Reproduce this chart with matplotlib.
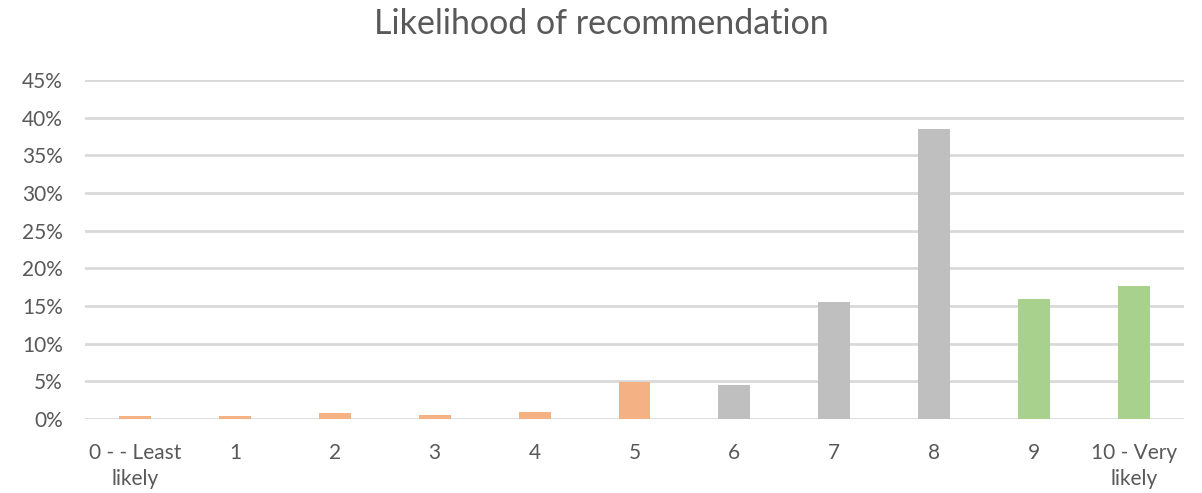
import matplotlib
matplotlib.use("Agg")
import matplotlib.pyplot as plt
from matplotlib.ticker import PercentFormatter

plt.rcParams['font.family'] = ['Lato', 'DejaVu Sans']

categories = ["0 - - Least\nlikely", "1", "2", "3", "4", "5", "6", "7", "8", "9", "10 - Very\nlikely"]
shares = [0.4, 0.4, 0.8, 0.5, 0.9, 4.9, 4.5, 15.5, 38.5, 15.9, 17.7]
groups = ["detractor"] * 6 + ["passive"] * 3 + ["promoter"] * 2
group_colors = {"detractor": "#F4B183", "passive": "#BFBFBF", "promoter": "#A9D18E"}
y_ticks = [0, 5, 10, 15, 20, 25, 30, 35, 40, 45]

text_color = "#595959"

fig = plt.figure(figsize=(12.02, 4.93), dpi=100)
ax = fig.add_axes([85 / 1202, (493 - 419) / 493, (1184 - 85) / 1202, (419 - 80) / 493])

x = list(range(len(categories)))
ax.bar(x, shares, width=0.32, color=[group_colors[g] for g in groups], zorder=3)

ax.set_xlim(-0.5, len(categories) - 0.5)
ax.set_ylim(0, 45)
ax.set_yticks(y_ticks)
ax.yaxis.set_major_formatter(PercentFormatter(decimals=0))
ax.set_xticks(x)
ax.set_xticklabels(categories, linespacing=1.4)

ax.grid(axis='y', color="#D9D9D9", linewidth=2, zorder=0)
for s in ax.spines.values():
    s.set_visible(False)
ax.tick_params(axis='both', length=0, labelsize=15, colors=text_color)
ax.tick_params(axis='x', pad=17)
ax.tick_params(axis='y', pad=16)

fig.text(0.5, 1 - 24 / 493, "Likelihood of recommendation", ha='center', va='center',
         fontsize=24.5, color=text_color)

fig.savefig("out.png", dpi=100, facecolor="white")
